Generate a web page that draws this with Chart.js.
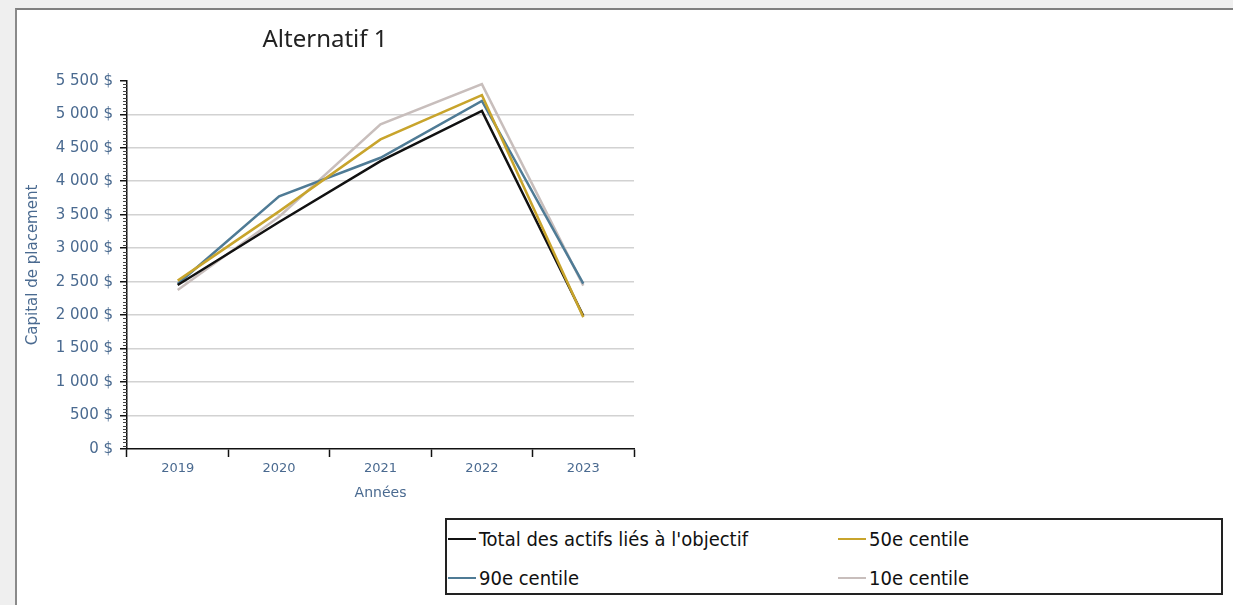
<!DOCTYPE html>
<html lang="fr">
<head>
<meta charset="utf-8">
<title>Alternatif 1</title>
<script src="https://cdn.jsdelivr.net/npm/chart.js@4/dist/chart.umd.min.js"></script>
<style>
  html, body { margin: 0; padding: 0; }
  body { width: 1233px; height: 605px; background: #efefef; position: relative; overflow: hidden; }
  #frame {
    position: absolute; left: 15px; top: 8px; width: 1230px; height: 610px;
    background: #fff; border-top: 2px solid #7f7f7f; border-left: 2px solid #8a8a8a;
  }
  #wrap { position: absolute; left: 16px; top: 10px; width: 622px; height: 500px; }
  #legend {
    position: absolute; left: 445px; top: 518px; width: 778px; height: 77px;
    border: 2px solid #222; box-sizing: border-box;
    font-family: "DejaVu Sans Condensed", "DejaVu Sans", sans-serif; font-size: 20px; color: #111;
  }
  .item { position: absolute; display: flex; align-items: center; white-space: nowrap; }
  .swatch { width: 28px; height: 2.5px; margin-right: 3px; }
</style>
</head>
<body>
<div id="frame"></div>
<div id="wrap"><canvas id="chart"></canvas></div>
<div id="legend"></div>
<script>
// categories and series
const years = ['2019', '2020', '2021', '2022', '2023'];
const totalActifs = [2450, 3390, 4300, 5050, 1990];
const centile50 = [2515, 3550, 4625, 5285, 1970];
const centile90 = [2465, 3775, 4350, 5200, 2470];
const centile10 = [2375, 3470, 4850, 5450, 2440];

const seriesNames = ["Total des actifs liés à l'objectif", '50e centile', '90e centile', '10e centile'];
const seriesColors = ['#111111', '#c8a42c', '#4f7b95', '#c8bebc'];
const seriesData = [totalActifs, centile50, centile90, centile10];

const yMin = 0, yMax = 5500, yStep = 500, yMinorStep = 50;
const labelColor = '#4a6a90';

function fmtDollar(v) {
    return v.toLocaleString('fr-FR').replace(/[\u202f\u00a0]/g, ' ') + ' $';
}

// little minor ticks along the value axis
const minorTicks = {
    id: 'minorTicks',
    afterDraw(chart) {
        const y = chart.scales.y;
        const ctx = chart.ctx;
        ctx.save();
        ctx.strokeStyle = '#444';
        ctx.lineWidth = 1;
        for (let v = yMin; v <= yMax; v += yMinorStep) {
            if (v % yStep === 0) continue;
            const py = Math.round(y.getPixelForValue(v)) + 0.5;
            ctx.beginPath();
            ctx.moveTo(y.right - 4, py);
            ctx.lineTo(y.right, py);
            ctx.stroke();
        }
        ctx.restore();
    }
};

const ctx = document.getElementById('chart').getContext('2d');
const chart = new Chart(ctx, {
    type: 'line',
    data: {
        labels: years,
        datasets: seriesData.map((d, i) => ({
            label: seriesNames[i],
            data: d,
            borderColor: seriesColors[i],
            backgroundColor: seriesColors[i],
            borderWidth: 2.5,
            pointRadius: 0,
            tension: 0,
            fill: false,
            order: [2, 1, 3, 4][i]
        }))
    },
    options: {
        responsive: true,
        maintainAspectRatio: false,
        animation: false,
        layout: { padding: { left: 0, right: 4, top: 0, bottom: 0 } },
        plugins: {
            legend: { display: false },
            tooltip: { enabled: false },
            title: {
                display: true,
                text: 'Alternatif 1',
                color: '#222',
                font: { family: '"Noto Sans", sans-serif', size: 24, weight: 'normal' },
                padding: { top: 16, bottom: 26 }
            }
        },
        scales: {
            x: {
                offset: true,
                afterFit(scale) { scale.height = 61; },
                grid: {
                    display: true,
                    offset: true,
                    drawOnChartArea: false,
                    tickLength: 8,
                    tickColor: '#111',
                    tickWidth: 1.5
                },
                border: { color: '#111', width: 1.5 },
                ticks: {
                    color: labelColor,
                    padding: 4,
                    font: { family: '"DejaVu Sans", sans-serif', size: 13 }
                },
                title: {
                    display: true,
                    text: 'Années',
                    color: labelColor,
                    font: { family: '"DejaVu Sans", sans-serif', size: 14 },
                    padding: { top: 0, bottom: 8 }
                }
            },
            y: {
                min: yMin,
                max: yMax,
                afterFit(scale) { scale.width = 111; },
                grid: {
                    color: c => (c.tick && (c.tick.value === yMax || c.tick.value === yMin)) ? 'rgba(0,0,0,0)' : '#d2d2d2',
                    lineWidth: 1.5,
                    tickLength: 7,
                    tickColor: '#111',
                    tickWidth: 1.5
                },
                border: { color: '#111', width: 1.5 },
                ticks: {
                    stepSize: yStep,
                    color: labelColor,
                    padding: 7,
                    font: { family: '"DejaVu Sans", sans-serif', size: 15 },
                    callback: v => fmtDollar(v)
                },
                title: {
                    display: true,
                    text: 'Capital de placement',
                    color: labelColor,
                    font: { family: '"DejaVu Sans", sans-serif', size: 15 },
                    padding: { top: 8, bottom: 0 }
                }
            }
        }
    },
    plugins: [minorTicks]
});

// legend box, two columns
const legendEl = document.getElementById('legend');
const legendPos = [[1, 19], [391, 19], [1, 58], [391, 58]];
seriesNames.forEach((name, i) => {
    const item = document.createElement('div');
    item.className = 'item';
    item.style.left = legendPos[i][0] + 'px';
    item.style.top = (legendPos[i][1] - 12) + 'px';
    item.style.height = '24px';
    const sw = document.createElement('span');
    sw.className = 'swatch';
    sw.style.background = seriesColors[i];
    const tx = document.createElement('span');
    tx.textContent = name;
    item.appendChild(sw);
    item.appendChild(tx);
    legendEl.appendChild(item);
});
</script>
</body>
</html>
